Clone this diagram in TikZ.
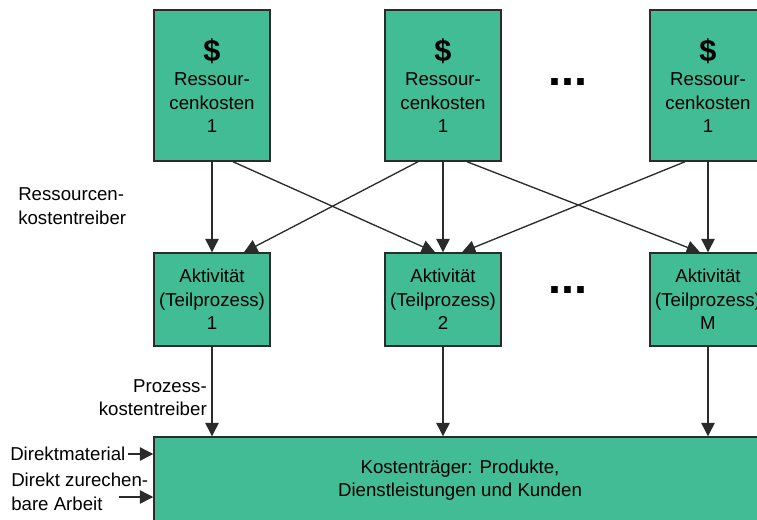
\documentclass[tikz,border=0pt]{standalone}
\usepackage{fontspec}
\setmainfont{Liberation Sans}
\usetikzlibrary{arrows.meta,calc}

\definecolor{abcgreen}{HTML}{41BC94}
\definecolor{abcline}{HTML}{2B2B2B}

\tikzset{
  kbox/.style={draw=abcline, fill=abcgreen, line width=1.1pt, align=center,
    inner sep=0pt, font=\fontsize{14}{17.6}\selectfont},
  res/.style={kbox, minimum width=87pt, minimum height=113.25pt},
  akt/.style={kbox, minimum width=87pt, minimum height=69.75pt},
  pfeil/.style={-{Triangle[length=10pt,width=10pt]}, draw=abcline, line width=1pt},
  lbl/.style={inner sep=0pt, font=\fontsize{14}{17.6}\selectfont},
  punkte/.style={inner sep=0pt, font=\fontsize{35}{35}\selectfont\bfseries}
}
\newcommand{\geld}{{\fontsize{23}{23}\selectfont\bfseries\$}}

\begin{document}
\begin{tikzpicture}[x=0.75pt,y=-0.75pt]
\useasboundingbox (0,0) rectangle (757,519);

% Ressourcen
\node[res] (r1) at (212,85.5) {\geld\\[1pt]Ressour-\\cenkosten\\1};
\node[res] (r2) at (443,85.5) {\geld\\[1pt]Ressour-\\cenkosten\\1};
\node[res] (r3) at (708,85.5) {\geld\\[1pt]Ressour-\\cenkosten\\1};
\node[punkte] (d1) at (568,82) {...};

% Aktivitaeten
\node[akt] (a1) at (212,299.5) {Aktivität\\(Teilprozess)\\1};
\node[akt] (a2) at (443,299.5) {Aktivität\\(Teilprozess)\\2};
\node[akt] (a3) at (708,299.5) {Aktivität\\(Teilprozess)\\M};
\node[punkte] (d2) at (568,290) {...};

% Kostentraeger
\node[kbox, minimum width=459pt, minimum height=64.5pt] (k) at (460,480)
  {Kostenträger: Produkte,\\Dienstleistungen und Kunden};

\node[lbl, anchor=west, align=left] (rkt) at (18,206) {Ressourcen-\\kostentreiber};
\node[lbl, anchor=east, align=right] (pkt) at (207,397.5) {Prozess-\\kostentreiber};
\node[lbl, anchor=west] (dm) at (10,454) {Direktmaterial};
\node[lbl, anchor=west, align=left] (dz) at (11,492) {Direkt zurechen-\\bare Arbeit};
\coordinate (dzs) at (119,497);

\foreach \i in {1,2,3} {
  \draw[pfeil] (r\i) -- (a\i);
  \draw[pfeil] (a\i.south) -- (a\i.south |- k.north);
}

\foreach \a/\da/\b/\db in {r1/21/a2/-8, r2/-25/a1/32, r2/24/a3/-8, r3/-23/a2/19}
  \draw[pfeil] ($(\a.south)+(\da,0)$) -- ($(\b.north)+(\db,0)$);

\draw[pfeil] ([xshift=1.5pt]dm.east) -- (dm.east -| k.west);
\draw[pfeil] (dzs) -- (dzs -| k.west);

\end{tikzpicture}
\end{document}
